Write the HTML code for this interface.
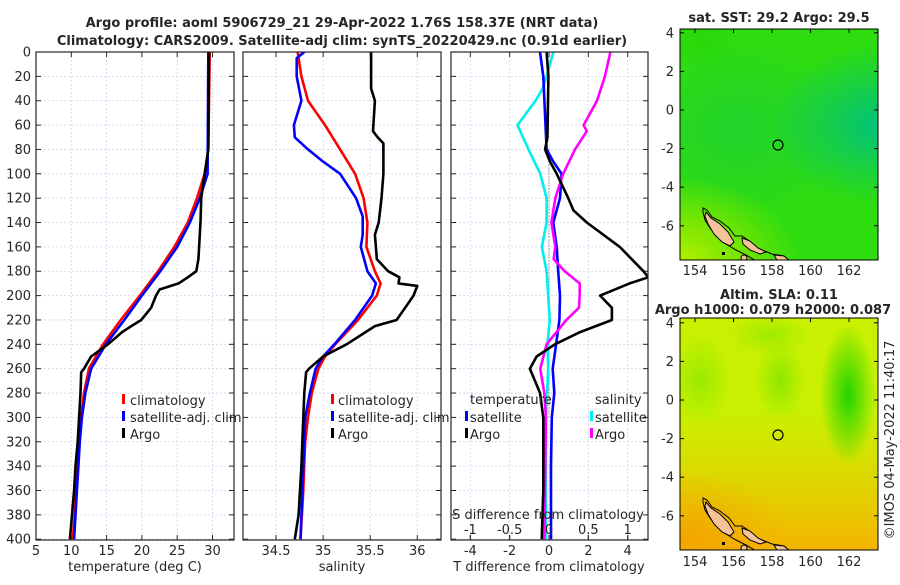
<!DOCTYPE html>
<html><head><meta charset="utf-8"><style>
body{margin:0;background:#fff}
svg text{font-family:"DejaVu Sans","Liberation Sans",sans-serif;fill:#262626}
</style></head><body>
<svg id="fig" width="900" height="580" viewBox="0 0 900 580" xmlns="http://www.w3.org/2000/svg">
<defs>
<clipPath id="c1"><rect x="36" y="52" width="198" height="488"/></clipPath>
<clipPath id="c2"><rect x="243" y="52" width="198" height="488"/></clipPath>
<clipPath id="c3"><rect x="451" y="52" width="197" height="488"/></clipPath>
<clipPath id="m1"><rect x="680" y="29" width="198" height="231"/></clipPath>
<clipPath id="m2"><rect x="680" y="318" width="198" height="232"/></clipPath>
<radialGradient id="teal" cx="0.5" cy="0.5" r="0.5"><stop offset="0" stop-color="#00c27a"/><stop offset="1" stop-color="#00c27a" stop-opacity="0"/></radialGradient>
<radialGradient id="ygreen" cx="0.5" cy="0.5" r="0.5"><stop offset="0" stop-color="#b8f000"/><stop offset="0.5" stop-color="#88e800" stop-opacity="0.8"/><stop offset="1" stop-color="#88e800" stop-opacity="0"/></radialGradient>
<radialGradient id="midg" cx="0.5" cy="0.5" r="0.5"><stop offset="0" stop-color="#18cc40"/><stop offset="1" stop-color="#18cc40" stop-opacity="0"/></radialGradient>
<linearGradient id="orng" x1="0" y1="0" x2="0" y2="1"><stop offset="0" stop-color="#f0c800" stop-opacity="0"/><stop offset="1" stop-color="#f5b400" stop-opacity="1"/></linearGradient>
<radialGradient id="orng2" cx="0.5" cy="0.5" r="0.5"><stop offset="0" stop-color="#f5a000"/><stop offset="1" stop-color="#f5a000" stop-opacity="0"/></radialGradient>
<radialGradient id="gblob" cx="0.5" cy="0.5" r="0.5"><stop offset="0" stop-color="#22d400"/><stop offset="1" stop-color="#22d400" stop-opacity="0"/></radialGradient>
<radialGradient id="gblob2" cx="0.5" cy="0.5" r="0.5"><stop offset="0" stop-color="#8ee800"/><stop offset="1" stop-color="#8ee800" stop-opacity="0"/></radialGradient>
</defs>

<text x="342" y="27" text-anchor="middle" font-size="13" font-weight="bold" fill="#000">Argo profile: aoml 5906729_21 29-Apr-2022 1.76S 158.37E (NRT data)</text>
<text x="342" y="45" text-anchor="middle" font-size="13" font-weight="bold" fill="#000">Climatology: CARS2009. Satellite-adj clim: synTS_20220429.nc (0.91d earlier)</text>

<g id="p1"></g>
<g id="p2"></g>
<g id="p3"></g>

<text x="135" y="571" text-anchor="middle" font-size="13">temperature (deg C)</text>
<text x="342" y="571" text-anchor="middle" font-size="13">salinity</text>
<text x="549" y="571" text-anchor="middle" font-size="13">T difference from climatology</text>
<text x="548" y="519" text-anchor="middle" font-size="13">S difference from climatology</text>

<g font-size="13">
<rect x="122" y="394" width="3" height="10" fill="#f00"/><text x="130" y="405">climatology</text>
<rect x="122" y="411" width="3" height="10" fill="#00f"/><text x="130" y="422">satellite-adj. clim</text>
<rect x="122" y="428" width="3" height="10" fill="#000"/><text x="130" y="439">Argo</text>
</g>
<g font-size="13">
<rect x="331" y="394" width="3" height="10" fill="#f00"/><text x="338" y="405">climatology</text>
<rect x="331" y="411" width="3" height="10" fill="#00f"/><text x="338" y="422">satellite-adj. clim</text>
<rect x="331" y="428" width="3" height="10" fill="#000"/><text x="338" y="439">Argo</text>
</g>
<g font-size="13">
<text x="470" y="404">temperature</text>
<rect x="465" y="411" width="3" height="10" fill="#00f"/><text x="470" y="422">satellite</text>
<rect x="465" y="428" width="3" height="10" fill="#000"/><text x="470" y="439">Argo</text>
<text x="595" y="404">salinity</text>
<rect x="590" y="411" width="3" height="10" fill="#0ee"/><text x="595" y="422">satellite</text>
<rect x="590" y="428" width="3" height="10" fill="#f0f"/><text x="595" y="439">Argo</text>
</g>

<text x="779" y="22" text-anchor="middle" font-size="13" font-weight="bold" fill="#000">sat. SST: 29.2 Argo: 29.5</text>
<g clip-path="url(#m1)">
<rect x="680" y="29" width="198" height="231" fill="#2edc10"/>
<ellipse cx="740" cy="130" rx="110" ry="90" fill="url(#midg)" opacity="0.6"/>
<ellipse cx="880" cy="125" rx="110" ry="80" fill="url(#teal)"/>
<ellipse cx="680" cy="262" rx="120" ry="85" fill="url(#ygreen)"/>
<ellipse cx="700" cy="40" rx="40" ry="25" fill="url(#gblob)" opacity="0.5"/>
<g class="island"></g>
<circle cx="778" cy="145" r="5" fill="none" stroke="#000" stroke-width="1.2"/>
</g>
<rect x="680" y="29" width="198" height="231" fill="none" stroke="#000" stroke-width="1"/>

<text x="779" y="299" text-anchor="middle" font-size="13" font-weight="bold" fill="#000">Altim. SLA: 0.11</text>
<text x="773" y="314" text-anchor="middle" font-size="13" font-weight="bold" fill="#000">Argo h1000: 0.079 h2000: 0.087</text>
<g clip-path="url(#m2)">
<rect x="680" y="318" width="198" height="232" fill="#c8f000"/>
<rect x="680" y="410" width="198" height="140" fill="url(#orng)"/>
<ellipse cx="690" cy="540" rx="100" ry="70" fill="url(#orng2)" opacity="0.8"/>
<ellipse cx="848" cy="395" rx="28" ry="70" fill="url(#gblob)"/>
<ellipse cx="780" cy="380" rx="25" ry="40" fill="url(#gblob2)"/>
<ellipse cx="700" cy="380" rx="30" ry="45" fill="url(#gblob2)" opacity="0.8"/>
<ellipse cx="770" cy="335" rx="40" ry="20" fill="url(#gblob2)" opacity="0.7"/>
<g class="island" transform="translate(0,290)"></g>
<circle cx="778" cy="435" r="5" fill="none" stroke="#000" stroke-width="1.2"/>
</g>
<rect x="680" y="318" width="198" height="232" fill="none" stroke="#000" stroke-width="1"/>

<text transform="translate(894,440) rotate(-90)" text-anchor="middle" font-size="13">©IMOS 04-May-2022 11:40:17</text>
</svg>
<script>
const depthTClim = [0,80,100,120,140,160,180,200,220,240,260,280,300,320,340,360,380,400];
const tempClim   = [29.6,29.4,28.9,27.8,26.5,24.6,22.3,19.7,17.0,14.5,12.5,11.8,11.4,11.1,10.9,10.7,10.5,10.2];
const depthTSat  = [0,100,120,140,160,180,200,220,240,260,280,300,320,340,360,380,400];
const tempSat    = [29.4,29.3,28.2,26.8,25.0,22.6,20.0,17.5,14.9,12.8,12.0,11.5,11.2,11.0,10.8,10.6,10.4];
const depthTArgo = [0,80,100,120,140,160,170,180,185,190,195,200,210,220,225,230,240,250,260,263,280,300,320,340,360,380,400];
const tempArgo   = [29.5,29.4,28.9,28.4,28.3,28.1,28.0,27.7,26.5,25.2,22.5,22.0,21.3,19.9,18.5,17.2,15.2,12.8,11.8,11.4,11.3,11.1,10.9,10.6,10.4,10.1,9.8];

const depthSClim = [0,20,40,60,80,100,120,140,160,180,190,200,220,240,250,260,280,300,320,360,400];
const salClim    = [34.73,34.77,34.84,35.02,35.18,35.34,35.43,35.47,35.46,35.55,35.61,35.57,35.37,35.13,35.02,34.95,34.88,34.84,34.81,34.79,34.76];
const depthSSat  = [0,5,10,20,40,60,70,80,90,100,120,135,150,160,180,190,200,220,240,250,260,280,300,340,400];
const salSat     = [34.80,34.72,34.72,34.72,34.77,34.69,34.70,34.84,35.00,35.18,35.35,35.42,35.42,35.40,35.47,35.56,35.52,35.34,35.12,35.00,34.92,34.86,34.81,34.79,34.76];
const depthSArgo = [0,30,40,65,70,75,100,120,140,150,160,170,180,185,190,192,200,210,220,225,240,250,260,263,280,300,340,380,400];
const salArgo    = [35.51,35.51,35.55,35.53,35.58,35.64,35.64,35.62,35.59,35.55,35.56,35.57,35.69,35.81,35.80,36.00,35.96,35.87,35.78,35.55,35.25,35.00,34.85,34.82,34.80,34.79,34.77,34.74,34.70];

const depthDTSat = [0,20,80,90,100,120,140,160,180,200,220,240,260,280,300,340,400];
const dTSat      = [-0.46,-0.29,-0.12,0.22,0.64,0.56,0.22,0.39,0.47,0.56,0.53,0.36,0.19,0.27,0.14,0.10,0.10];
const depthDTArgo= [0,20,70,80,90,100,120,130,140,160,180,185,190,200,210,220,230,240,250,260,270,280,300,360,400];
const dTArgo     = [-0.12,-0.03,-0.08,-0.20,0.05,0.39,0.98,1.24,1.92,3.6,4.8,5.05,4.1,2.6,3.2,3.2,1.58,0.3,-0.63,-0.97,-0.71,-0.46,-0.29,-0.29,-0.37];
const depthDSSat = [0,20,30,40,60,80,100,120,140,160,180,200,220,240,260,300,400];
const dSSat      = [0.055,-0.03,-0.08,-0.17,-0.40,-0.26,-0.11,-0.03,-0.03,-0.09,-0.03,-0.01,0.01,-0.02,-0.01,-0.04,-0.04];
const depthDSArgo= [0,20,40,60,65,80,100,120,140,160,170,180,190,200,210,220,240,260,280,300,400];
const dSArgo     = [0.78,0.71,0.61,0.44,0.48,0.33,0.18,0.08,0.03,0.08,0.06,0.20,0.39,0.39,0.38,0.22,-0.03,-0.11,-0.06,-0.04,-0.06];

const depthTicks = [0,20,40,60,80,100,120,140,160,180,200,220,240,260,280,300,320,340,360,380,400];
const tTicks = [5,10,15,20,25,30];
const sTicks = [34.5,35,35.5,36];
const dTTicks = [-4,-2,0,2,4];
const dSTicks = [-1,-0.5,0,0.5,1];
const dSTickLabels = ['-1','-0.5','0','0.5','1'];

const yD = d => 52 + d*1.218;
const xT = t => 36 + (t-5)*7.06;
const xS = s => 276 + (s-34.5)*94.2;
const xDT = t => 549 + t*19.67;
const xDS = s => 549 + s*4*19.67;

const NS='http://www.w3.org/2000/svg';
function mk(tag, attrs, parent){const e=document.createElementNS(NS,tag);for(const k in attrs)e.setAttribute(k,attrs[k]);parent.appendChild(e);return e;}

function panel(gid, x0, w, clip, xticks, xf, labels, showDepth){
  const g=document.getElementById(gid);
  const grid=mk('g',{},g);
  
  
  depthTicks.forEach(d=>{ mk('line',{x1:x0,x2:x0+w,y1:yD(d),y2:yD(d),stroke:'#cdd4ec','stroke-width':0.8,'stroke-dasharray':'2,2'},grid); });
  xticks.forEach(t=>{ mk('line',{x1:xf(t),x2:xf(t),y1:52,y2:540,stroke:'#cdd4ec','stroke-width':0.8,'stroke-dasharray':'2,2'},grid); });
  const ax=mk('g',{},g);
  
  
  depthTicks.forEach(d=>{
    mk('line',{x1:x0,x2:x0+5,y1:yD(d),y2:yD(d),stroke:'#262626'},ax);
    mk('line',{x1:x0+w-5,x2:x0+w,y1:yD(d),y2:yD(d),stroke:'#262626'},ax);
    if(showDepth){const t=mk('text',{x:x0-5,y:yD(d)+4.5,'text-anchor':'end','font-size':13},ax);t.textContent=d;
      
      }
  });
  xticks.forEach((v,i)=>{
    mk('line',{x1:xf(v),x2:xf(v),y1:540,y2:535,stroke:'#262626'},ax);
    mk('line',{x1:xf(v),x2:xf(v),y1:52,y2:57,stroke:'#262626'},ax);
    if(labels){const t=mk('text',{x:xf(v),y:555,'text-anchor':'middle','font-size':13},ax);t.textContent=labels[i];
      
      }
  });
  const data=mk('g',{'clip-path':'url(#'+clip+')'},g);
  
  
  mk('rect',{x:x0,y:52,width:w,height:488,fill:'none',stroke:'#262626','stroke-width':1.2},g);
  return data;
}
function line(g, depths, vals, xf, color, name){
  const pts=depths.map((d,i)=>xf(vals[i]).toFixed(1)+','+yD(d).toFixed(1)).join(' ');
  const p=mk('polyline',{points:pts,fill:'none',stroke:color,'stroke-width':2.6,'stroke-linejoin':'round'},g);
  
  
}

const g1=panel('p1',36,198,'c1',tTicks,xT,tTicks.map(String),true);
line(g1,depthTClim,tempClim,xT,'#f00','temp-climatology-line');
line(g1,depthTSat,tempSat,xT,'#00f','temp-satellite-adj-line');
line(g1,depthTArgo,tempArgo,xT,'#000','temp-argo-line');

const g2=panel('p2',243,198,'c2',sTicks,xS,sTicks.map(String),false);
line(g2,depthSClim,salClim,xS,'#f00','sal-climatology-line');
line(g2,depthSSat,salSat,xS,'#00f','sal-satellite-adj-line');
line(g2,depthSArgo,salArgo,xS,'#000','sal-argo-line');

const g3=panel('p3',451,197,'c3',dTTicks,xDT,dTTicks.map(String),false);
const zl=mk('line',{x1:xDT(0),x2:xDT(0),y1:yD(80),y2:yD(300),stroke:'#555','stroke-width':1,'stroke-dasharray':'1,2'},g3);


line(g3,depthDSSat,dSSat,xDS,'#0ee','sal-diff-satellite-line');
line(g3,depthDTSat,dTSat,xDT,'#00f','temp-diff-satellite-line');
line(g3,depthDSArgo,dSArgo,xDS,'#f0f','sal-diff-argo-line');
line(g3,depthDTArgo,dTArgo,xDT,'#000','temp-diff-argo-line');
const p3=document.getElementById('p3');
dSTicks.forEach((v,i)=>{
  mk('line',{x1:xDS(v),x2:xDS(v),y1:540,y2:535,stroke:'#262626'},p3);
  const t=mk('text',{x:xDS(v),y:534,'text-anchor':'middle','font-size':13},p3);t.textContent=dSTickLabels[i];
  
  
});

const lonTicks=[154,156,158,160,162];
const latTicks=[4,2,0,-2,-4,-6];
const mx = lon => 695 + (lon-154)*19.25;
const svg=document.getElementById('fig');
[[29,110,275],[318,400,566]].forEach(([top,y0,ly])=>{
  const my = lat => y0 - lat*19.3;
  latTicks.forEach(l=>{
    mk('line',{x1:680,x2:684,y1:my(l),y2:my(l),stroke:'#000'},svg);
    mk('line',{x1:874,x2:878,y1:my(l),y2:my(l),stroke:'#000'},svg);
    const t=mk('text',{x:674,y:my(l)+4.5,'text-anchor':'end','font-size':13},svg);t.textContent=l;
    
    
  });
  lonTicks.forEach(l=>{
    const t=mk('text',{x:mx(l),y:ly,'text-anchor':'middle','font-size':13},svg);t.textContent=l;
    
    
    mk('line',{x1:mx(l),x2:mx(l),y1:top,y2:top+4,stroke:'#000'},svg);
  });
});
document.querySelectorAll('.island').forEach(g=>{
  mk('polygon',{points:'703,208 707,210 712,217 720,221 729,228 735,236 742,236 748,240 756,247 762,250 772,254 784,256 790,262 758,262 746,255 736,250 726,244 716,236 710,228 705,220 703,212',fill:'none',stroke:'#000','stroke-width':1},g);
  mk('polygon',{points:'706,212 711,218 720,224 728,232 734,242 730,246 722,242 714,234 708,224 705,216',fill:'#f5c39a',stroke:'#000','stroke-width':1},g);
  mk('polygon',{points:'742,238 750,241 758,248 766,252 760,254 750,250 743,244',fill:'#f5c39a',stroke:'#000','stroke-width':1},g);
  mk('polygon',{points:'774,255 784,256 790,261 778,262',fill:'#f5c39a',stroke:'#000','stroke-width':1},g);
  mk('rect',{x:722,y:252,width:3,height:3,fill:'#000'},g);
  mk('circle',{cx:744,cy:258,r:3,fill:'#f5c39a',stroke:'#000'},g);
});
</script>
</body></html>
